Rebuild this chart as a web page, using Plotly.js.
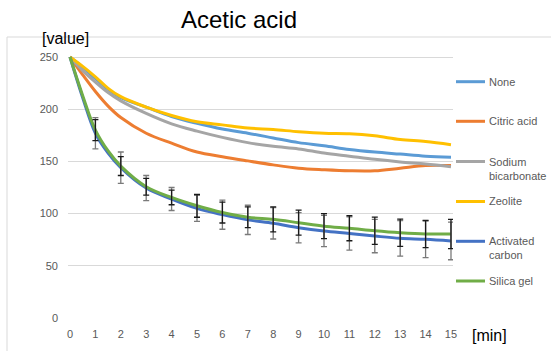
<!DOCTYPE html>
<html>
<head>
<meta charset="utf-8">
<script src="https://cdn.plot.ly/plotly-3.0.1.min.js"></script>
<style>html,body{margin:0;padding:0;background:#fff;}#chart{width:551px;height:351px;}</style>
</head>
<body>
<div id="chart"></div>
<script>
// ---- data ----
const chartTitle = "Acetic acid";
const xAxisLabel = "[min]";
const yAxisLabel = "[value]";
const timeMin = [0, 0.5, 1, 1.5, 2, 3, 4, 5, 6, 7, 8, 9, 10, 11, 12, 13, 14, 15];
const seriesNames = ["None", "Citric acid", "Sodium<br>bicarbonate", "Zeolite", "Activated<br>carbon", "Silica gel"];
const noneVals      = [250, 240, 229.5, 219, 211, 202, 193, 186.5, 181, 177, 172.5, 168, 165, 161.5, 159, 157, 155, 154];
const citricVals    = [250, 233, 217, 203, 192, 177, 167.5, 159, 154.5, 150.5, 146.7, 143.5, 142, 141, 141, 143.5, 146, 146];
const sodiumVals    = [250, 237, 226, 216, 208, 196, 186, 179, 173, 168, 164.5, 162, 158, 155, 152, 149.5, 147.5, 145];
const zeoliteVals   = [250, 241, 231, 220, 212, 202, 194, 188, 185, 182, 180.5, 178.5, 177, 176.5, 174.5, 171, 169, 166];
const activatedVals = [250, 211, 177, 158, 144, 124.5, 114, 105, 99, 94, 90.7, 86.5, 83.3, 81, 78.5, 76.3, 75.4, 73.8];
const silicaVals    = [250, 213, 180, 160, 145.5, 125.8, 115.5, 107.5, 101, 96.5, 94.5, 91.3, 88, 86, 83.6, 81.7, 80.5, 80.5];
const errTimes      = [1, 2, 3, 4, 5, 6, 7, 8, 9, 10, 11, 12, 13, 14, 15];
const errActivated  = [15, 15, 12, 11, 12.5, 14, 14, 15, 14.5, 15, 16, 16, 17, 17.5, 18];
const errSilica     = [10, 9, 8, 7, 11, 10, 10, 12, 12, 12, 12, 13, 13, 13, 14];
const xTicks = [0,1,2,3,4,5,6,7,8,9,10,11,12,13,14,15];
const yTicks = [0, 50, 100, 150, 200, 250];

// ---- styling ----
const colors = ["#5B9BD5", "#ED7D31", "#A5A5A5", "#FFC000", "#4472C4", "#70AD47"];
const allVals = [noneVals, citricVals, sodiumVals, zeoliteVals, activatedVals, silicaVals];
const W = 551, H = 351, M = {l: 68, r: 98, t: 54, b: 33};
const pw = W - M.l - M.r, ph = H - M.t - M.b;
const pxX = x => (x - M.l) / pw;
const pxY = y => (H - M.b - y) / ph;
const FONT = "Liberation Sans, Arial, sans-serif";

const traces = allVals.map((vals, i) => ({
  type: "scatter", mode: "lines", x: timeMin, y: vals,
  name: seriesNames[i], showlegend: false,
  line: {color: colors[i], width: 3, shape: "spline", smoothing: 1},
  hoverinfo: "skip"
}));

function valuesAt(vals, times) {
  return times.map(t => vals[timeMin.indexOf(t)]);
}
traces.push({
  type: "scatter", mode: "markers", x: errTimes, y: valuesAt(activatedVals, errTimes),
  marker: {opacity: 0, size: 2}, showlegend: false, hoverinfo: "skip",
  error_y: {type: "data", array: errActivated, visible: true, color: "#7a7a7a", thickness: 1.3, width: 3}
});
traces.push({
  type: "scatter", mode: "markers", x: errTimes, y: valuesAt(silicaVals, errTimes),
  marker: {opacity: 0, size: 2}, showlegend: false, hoverinfo: "skip",
  error_y: {type: "data", array: errSilica, visible: true, color: "#1a1a1a", thickness: 1.3, width: 3}
});

// manual legend (Excel spaces entries evenly)
const legendY = [81.7, 121.3, 161.5, 201.5, 241.3, 281];
const shapes = [
  {type: "line", xref: "paper", yref: "paper", x0: pxX(7), x1: pxX(551), y0: pxY(37), y1: pxY(37), line: {color: "#d9d9d9", width: 1}},
  {type: "line", xref: "paper", yref: "paper", x0: pxX(7), x1: pxX(7), y0: pxY(37), y1: pxY(351), line: {color: "#d9d9d9", width: 1}}
];
const annotations = [
  {text: yAxisLabel, xref: "paper", yref: "paper", x: pxX(65), y: pxY(39), xanchor: "center", yanchor: "middle", showarrow: false, font: {family: FONT, size: 16, color: "#000"}},
  {text: xAxisLabel, xref: "paper", yref: "paper", x: pxX(489), y: pxY(335), xanchor: "center", yanchor: "middle", showarrow: false, font: {family: FONT, size: 16, color: "#000"}}
];
seriesNames.forEach((n, i) => {
  shapes.push({type: "line", xref: "paper", yref: "paper", x0: pxX(456), x1: pxX(485), y0: pxY(legendY[i]), y1: pxY(legendY[i]), line: {color: colors[i], width: 3}});
  annotations.push({text: n, xref: "paper", yref: "paper", x: pxX(487), y: pxY(legendY[i] - 8), xanchor: "left", yanchor: "top", align: "left", showarrow: false, font: {family: FONT, size: 11, color: "#595959"}});
});

const layout = {
  width: W, height: H, margin: M,
  paper_bgcolor: "#fff", plot_bgcolor: "#fff",
  showlegend: false,
  title: {text: chartTitle, x: 239 / W, xanchor: "center", y: 1 - 20 / H, yanchor: "middle", font: {family: FONT, size: 24, color: "#000"}},
  xaxis: {range: [-0.079, 15.079], tickvals: xTicks, showgrid: false, zeroline: false, showline: false, ticks: "", ticklabelstandoff: 8,
          tickfont: {family: FONT, size: 11, color: "#595959"}, fixedrange: true},
  yaxis: {range: [0, 252.9], tickvals: yTicks, showgrid: true, gridcolor: "#d9d9d9", gridwidth: 1, zeroline: false, showline: false, ticks: "", ticklabelstandoff: 9,
          tickfont: {family: FONT, size: 11, color: "#595959"}, fixedrange: true},
  shapes: shapes, annotations: annotations
};
Plotly.newPlot("chart", traces, layout, {displayModeBar: false, staticPlot: true});
</script>
</body>
</html>
